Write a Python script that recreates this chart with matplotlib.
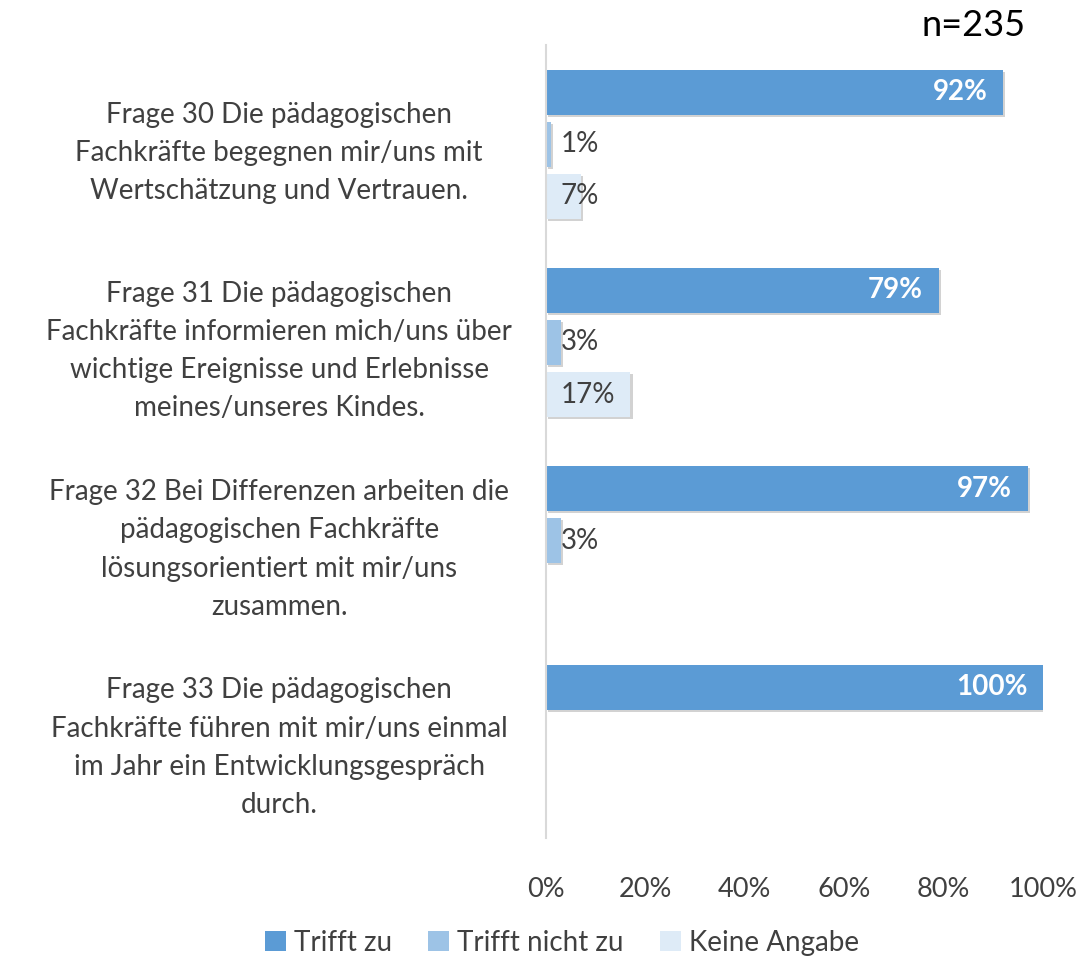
import numpy as np
import matplotlib
matplotlib.use("Agg")
import matplotlib.pyplot as plt
import matplotlib.patheffects as pe
from matplotlib.patches import Patch

plt.rcParams['font.family'] = ['Lato', 'DejaVu Sans']

# Data
categories = [
    "Frage 30 Die pädagogischen\nFachkräfte begegnen mir/uns mit\nWertschätzung und Vertrauen.",
    "Frage 31 Die pädagogischen\nFachkräfte informieren mich/uns über\nwichtige Ereignisse und Erlebnisse\nmeines/unseres Kindes.",
    "Frage 32 Bei Differenzen arbeiten die\npädagogischen Fachkräfte\nlösungsorientiert mit mir/uns\nzusammen.",
    "Frage 33 Die pädagogischen\nFachkräfte führen mit mir/uns einmal\nim Jahr ein Entwicklungsgespräch\ndurch.",
]
series_names = ["Trifft zu", "Trifft nicht zu", "Keine Angabe"]
trifft_zu = [92, 79, 97, 100]
trifft_nicht_zu = [1, 3, 3, None]
keine_angabe = [7, 17, None, None]
series_values = [trifft_zu, trifft_nicht_zu, keine_angabe]
colors = ["#5B9BD5", "#9DC3E6", "#DEEBF7"]
xticks = [0, 20, 40, 60, 80, 100]

text_col = "#404040"

fig = plt.figure(figsize=(10.81, 9.57), dpi=100)
ax = fig.add_axes([0.505, 0.124, 0.46, 0.829])

y = np.arange(len(categories))
offset = 52 / 198
height = 45 / 198
shadow = [pe.SimplePatchShadow(offset=(1.5, -1.5), alpha=0.22, shadow_rgbFace="#333333"), pe.Normal()]

for k, (name, vals, col) in enumerate(zip(series_names, series_values, colors)):
    ypos = y + (k - 1) * offset
    v = np.array([np.nan if x is None else x for x in vals], dtype=float)
    bars = ax.barh(ypos, np.nan_to_num(v), height=height, color=col, label=name)
    for b, val, yy in zip(bars, v, ypos):
        if np.isnan(val):
            b.set_visible(False)
            continue
        b.set_path_effects(shadow)
        if k == 0:
            ax.text(val - 3.2, yy, f"{int(val)}%", ha="right", va="center",
                    color="white", fontsize=20, fontweight="bold")
        else:
            ax.text(3.0, yy, f"{int(val)}%", ha="left", va="center",
                    color=text_col, fontsize=20)

ax.set_ylim(len(categories) - 0.5, -0.5)
ax.set_xlim(0, 100)
ax.set_xticks(xticks)
ax.set_xticklabels([f"{t}%" for t in xticks], fontsize=19.5, color=text_col)
ax.set_yticks(y)
ax.set_yticklabels(categories, fontsize=20, color=text_col, linespacing=1.58)
for lbl in ax.get_yticklabels():
    lbl.set_horizontalalignment("center")
    lbl.set_multialignment("center")
ax.tick_params(axis="y", length=0, pad=192)
ax.tick_params(axis="x", length=0, pad=28)

for s in ["top", "right", "bottom"]:
    ax.spines[s].set_visible(False)
ax.spines["left"].set_color("#D9D9D9")
ax.spines["left"].set_linewidth(1.5)

fig.text(0.949, 0.973, "n=235", ha="right", va="center", fontsize=26, color="black")

handles = [Patch(facecolor=c) for c in colors]
fig.legend(handles=handles, labels=series_names, loc="center", bbox_to_anchor=(0.52, 0.015),
           ncol=3, frameon=False, fontsize=20, handlelength=0.75, handleheight=0.75,
           handletextpad=0.3, columnspacing=1.3, labelcolor=text_col)

fig.savefig("out.png", dpi=100)
